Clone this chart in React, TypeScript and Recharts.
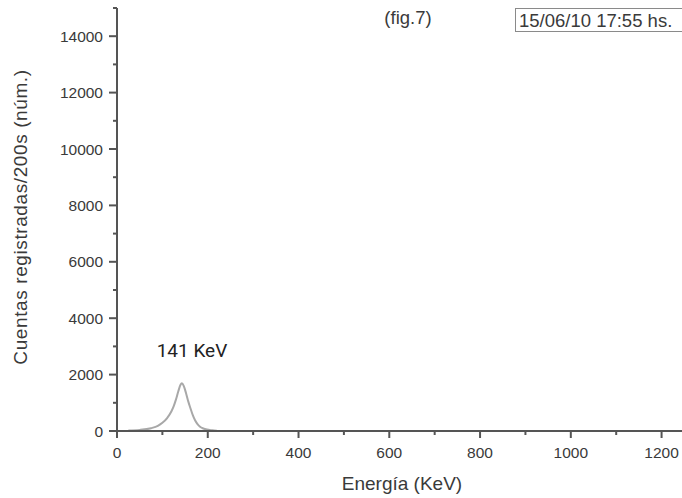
import React from 'react';
import { LineChart, Line, XAxis, YAxis } from 'recharts';

const energies = [25, 50, 75, 90, 100, 110, 120, 125, 130, 135, 140, 143, 147, 152, 157, 162, 167, 172, 177, 183, 190, 198, 210, 220];
const counts = [20, 40, 100, 180, 290, 450, 700, 880, 1120, 1400, 1640, 1690, 1600, 1350, 1050, 800, 560, 380, 250, 150, 90, 50, 25, 10];
const xTicks = [0, 100, 200, 300, 400, 500, 600, 700, 800, 900, 1000, 1100, 1200];
const yTicks = [0, 1000, 2000, 3000, 4000, 5000, 6000, 7000, 8000, 9000, 10000, 11000, 12000, 13000, 14000, 15000];
const peakLabel = '141 KeV';
const figLabel = '(fig.7)';
const dateLabel = '15/06/10 17:55 hs.';

const data = energies.map((e, i) => ({ e, c: counts[i] }));

const AXIS = '#555';
const TXT = '#3a3a3a';
const FONT = '"Liberation Sans", Arial, sans-serif';

const XTick = (props: any) => {
  const { x, y, payload } = props;
  const major = payload.value % 200 === 0;
  return (
    <g>
      <line x1={x} x2={x} y1={y} y2={y + (major ? 7 : 4)} stroke={AXIS} strokeWidth={2} />
      {major && (
        <text x={x} y={y + 27} textAnchor="middle" fontSize={15.5} fontFamily={FONT} fill={TXT}>
          {payload.value}
        </text>
      )}
    </g>
  );
};

const YTick = (props: any) => {
  const { x, y, payload } = props;
  const major = payload.value % 2000 === 0;
  return (
    <g>
      <line x1={x - (major ? 8 : 4)} x2={x} y1={y} y2={y} stroke={AXIS} strokeWidth={2} />
      {major && (
        <text x={x - 14} y={y + 5.5} textAnchor="end" fontSize={15.5} fontFamily={FONT} fill={TXT}>
          {payload.value}
        </text>
      )}
    </g>
  );
};

export default function App() {
  return (
    <div style={{ position: 'absolute', left: 0, top: 0, width: 682, height: 498, background: '#fff' }}>
      <LineChart width={682} height={498} data={data} margin={{ top: 8, right: 0, left: 0, bottom: 0 }}>
        <XAxis
          dataKey="e"
          type="number"
          domain={[0, 1245]}
          ticks={xTicks}
          interval={0}
          height={67}
          tickSize={0}
          tickMargin={0}
          stroke={AXIS}
          strokeWidth={2}
          tick={<XTick />}
          label={{
            content: () => (
              <text x={402} y={490} textAnchor="middle" fontSize={19} fontFamily={FONT} fill={TXT}>
                Energía (KeV)
              </text>
            ),
          }}
        />
        <YAxis
          type="number"
          domain={[0, 15000]}
          ticks={yTicks}
          interval={0}
          width={117}
          tickSize={0}
          tickMargin={0}
          stroke={AXIS}
          strokeWidth={2}
          tick={<YTick />}
          label={{
            content: () => (
              <text
                x={27}
                y={217}
                transform="rotate(-90 27 217)"
                textAnchor="middle"
                fontSize={19}
                fontFamily={FONT}
                fill={TXT}
                letterSpacing={0.6}
              >
                Cuentas registradas/200s (núm.)
              </text>
            ),
          }}
        />
        <Line
          type="monotone"
          dataKey="c"
          stroke="#a8a8a8"
          strokeWidth={2}
          dot={false}
          isAnimationActive={false}
        />
      </LineChart>
      <svg width={682} height={498} style={{ position: 'absolute', left: 0, top: 0, pointerEvents: 'none' }}>
        <text x={192} y={357} textAnchor="middle" fontSize={19} fontFamily="Roboto, sans-serif" fill="#222">
          {peakLabel}
        </text>
        <text x={408} y={24} textAnchor="middle" fontSize={18.5} fontFamily={FONT} fill={TXT}>
          {figLabel}
        </text>
        <rect x={515.5} y={8.5} width={180} height={23} fill="none" stroke="#8a8a8a" strokeWidth={1} />
        <text x={519} y={27} fontSize={18.5} fontFamily={FONT} fill={TXT}>
          {dateLabel}
        </text>
      </svg>
    </div>
  );
}
